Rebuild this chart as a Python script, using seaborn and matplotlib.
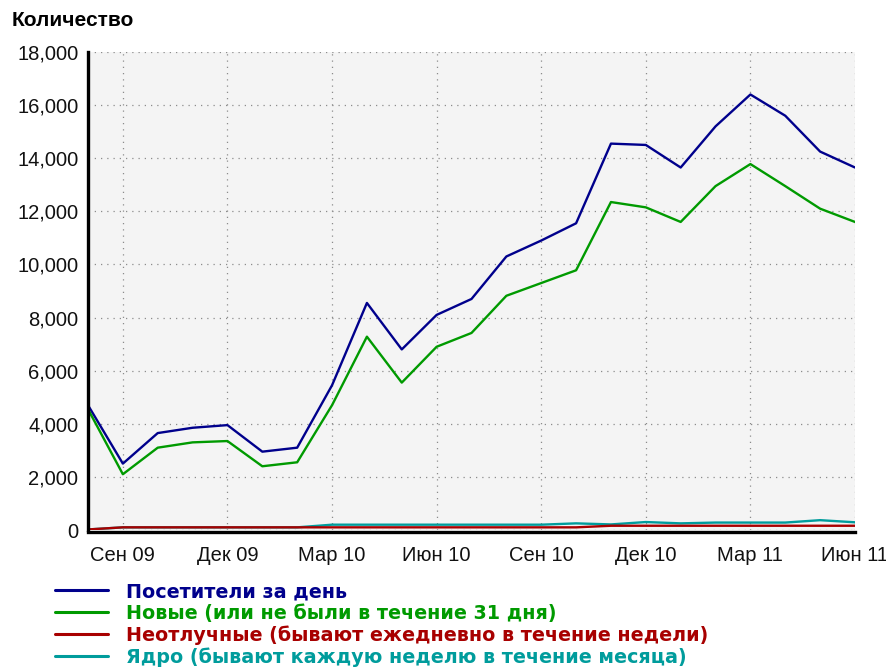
import matplotlib
matplotlib.use("Agg")
import matplotlib.pyplot as plt
import seaborn as sns
import pandas as pd
import numpy as np

# Monthly statistics, Aug 2009 .. Jun 2011
months = ["Авг 09", "Сен 09", "Окт 09", "Ноя 09", "Дек 09", "Янв 10", "Фев 10",
          "Мар 10", "Апр 10", "Май 10", "Июн 10", "Июл 10", "Авг 10", "Сен 10",
          "Окт 10", "Ноя 10", "Дек 10", "Янв 11", "Фев 11", "Мар 11", "Апр 11",
          "Май 11", "Июн 11"]

visitors = [4700, 2500, 3650, 3850, 3950, 2950, 3100, 5450, 8550, 6800, 8100, 8700,
            10300, 10900, 11550, 14550, 14500, 13650, 15200, 16400, 15600, 14250, 13650]
new_visitors = [4550, 2100, 3100, 3300, 3350, 2400, 2550, 4700, 7280, 5550, 6900, 7420,
                8820, 9300, 9780, 12350, 12150, 11600, 12950, 13780, 12950, 12100, 11600]
regulars = [20, 100, 100, 100, 100, 100, 100, 100, 100, 100, 100, 100,
            100, 100, 100, 160, 160, 160, 160, 160, 160, 160, 160]
core = [20, 100, 100, 100, 100, 100, 100, 200, 200, 200, 200, 200,
        200, 200, 250, 210, 300, 250, 280, 280, 280, 370, 290]

series_names = ["Посетители за день",
                "Новые (или не были в течение 31 дня)",
                "Неотлучные (бывают ежедневно в течение недели)",
                "Ядро (бывают каждую неделю в течение месяца)"]
series_values = [visitors, new_visitors, regulars, core]
series_colors = ["#00008c", "#009a00", "#a80000", "#009c9c"]

tick_positions = [1, 4, 7, 10, 13, 16, 19, 22]
tick_labels = ["Сен 09", "Дек 09", "Мар 10", "Июн 10", "Сен 10", "Дек 10", "Мар 11", "Июн 11"]

y_ticks = list(range(0, 18001, 2000))

frames = []
for name, vals in zip(series_names, series_values):
    frames.append(pd.DataFrame({"month": np.arange(len(months)), "value": vals, "series": name}))
df = pd.concat(frames, ignore_index=True)

sns.set_style("white")
plt.rcParams["font.family"] = ["Liberation Sans", "DejaVu Sans"]

W, H = 887, 672
fig = plt.figure(figsize=(W / 100, H / 100), dpi=100)
ax = fig.add_axes([88 / W, 1 - 530 / H, (855 - 88) / W, (530 - 52) / H])
ax.set_facecolor("#f4f4f4")

palette = dict(zip(series_names, series_colors))
# core series drawn beneath the regulars line
draw_order = [series_names[0], series_names[1], series_names[3], series_names[2]]
sns.lineplot(data=df, x="month", y="value", hue="series", hue_order=draw_order,
             palette=palette, linewidth=1.7, ax=ax, legend=False)

ax.set_xlim(0, 22)
ax.set_ylim(0, 18000)
ax.set_xticks(tick_positions)
ax.set_xticklabels(tick_labels)
ax.set_yticks(y_ticks)
ax.set_yticklabels([f"{v:,}" for v in y_ticks])
ax.set_xlabel("")
ax.set_ylabel("")

ax.grid(True, color="#8c8c8c", linestyle=(0, (1, 4)), linewidth=0.9)
ax.set_axisbelow(True)

for s in ["top", "right"]:
    ax.spines[s].set_visible(False)
for s in ["left", "bottom"]:
    ax.spines[s].set_color("black")
    ax.spines[s].set_linewidth(2.4)
    ax.spines[s].set_zorder(5)
ax.spines["bottom"].set_position(("outward", 1.5))

ax.tick_params(axis="both", which="major", direction="out", length=5, width=1.8,
               color="black", labelsize=14.5, labelcolor="#111111")
ax.tick_params(axis="y", pad=2)
ax.tick_params(axis="x", pad=5)

fig.text(12 / W, 1 - 20 / H, "Количество", fontsize=15, fontweight="bold",
         va="center", ha="left", color="black")

handles = [plt.Line2D([], [], color=c, linewidth=2.2) for c in series_colors]
fig.legend(handles, series_names, loc="upper left",
           bbox_to_anchor=(55 / W, 1 - 582 / H), frameon=False,
           prop={"family": ["DejaVu Sans"], "weight": "bold", "size": 13.8},
           labelcolor=series_colors, handlelength=2.77, handletextpad=0.92,
           labelspacing=0.14, borderaxespad=0, borderpad=0)

fig.savefig("out.png", dpi=100, facecolor="white")
